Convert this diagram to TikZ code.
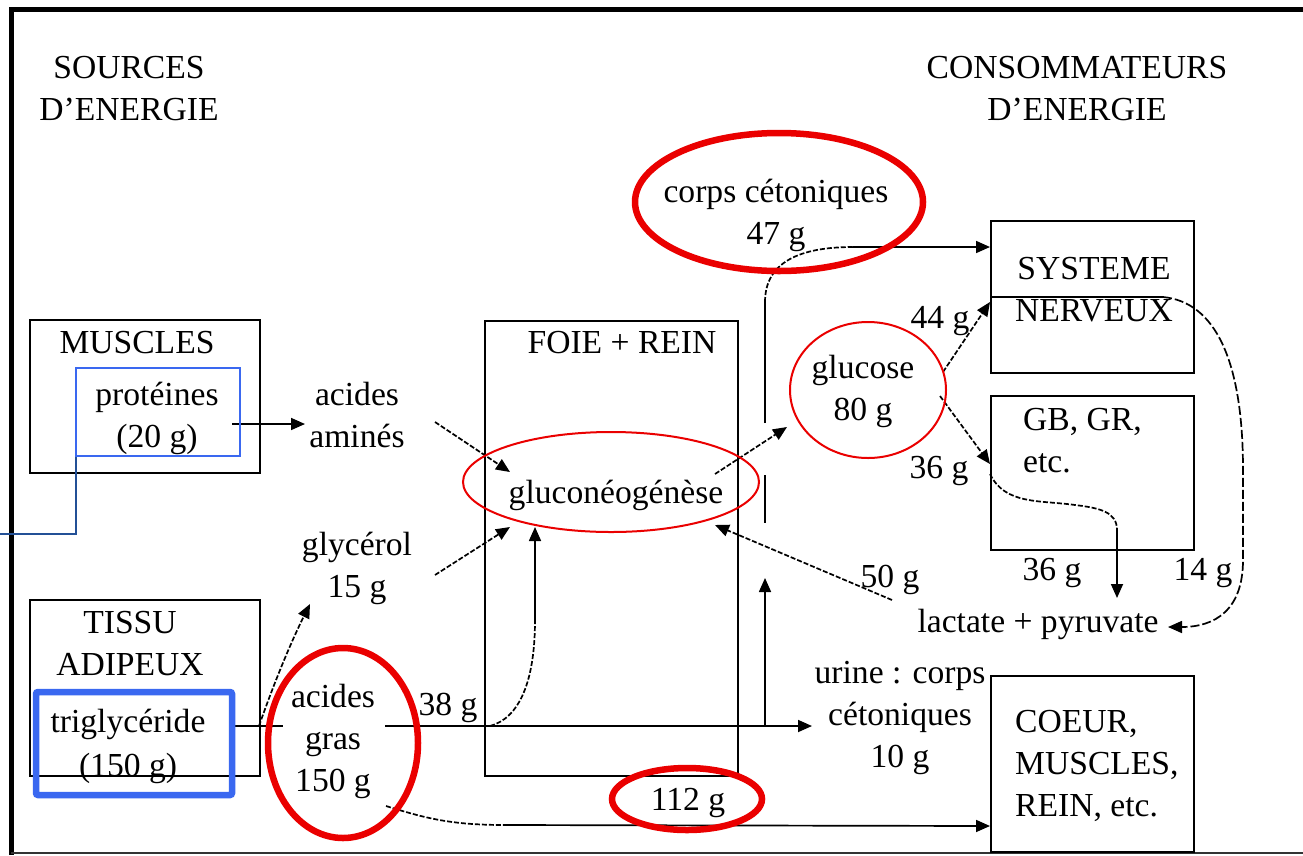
\documentclass[tikz,border=0pt]{standalone}
\usepackage{fontspec}
\setmainfont{Liberation Serif}
\usetikzlibrary{arrows.meta,shapes.geometric}
\definecolor{rd}{RGB}{234,0,0}
\definecolor{bl}{RGB}{58,104,240}
\definecolor{dbl}{RGB}{35,80,150}
\begin{document}
\begin{tikzpicture}[x=1pt,y=-1pt,
  txt/.style={align=center, inner sep=0pt, anchor=north, yshift=29.4pt, font=\fontsize{33.6}{42}\selectfont},
  txtl/.style={txt, align=left, anchor=north west},
  box/.style={draw, line width=1.8pt, inner sep=0pt},
  ell/.style={draw=rd, ellipse, inner sep=0pt},
  ln/.style={line width=1.7pt},
  arr/.style={ln, -{Triangle[length=14pt,width=12pt]}},
  dsh/.style={dash pattern=on 5pt off 2pt},
  ldsh/.style={dash pattern=on 9pt off 3pt}]
\useasboundingbox (0,0) rectangle (1303,855);
\fill[white] (0,0) rectangle (1303,855);
% frame
\draw[line width=5pt] (11,855) -- (11,9.5) -- (1303,9.5);
\draw[line width=1.5pt, black!80] (11,853) -- (1303,853);

% boxes
\node[box, minimum width=230pt, minimum height=153pt] (muscles) at (145,396.5) {};
\node[box, minimum width=230pt, minimum height=176pt] (tissu) at (145,688) {};
\node[box, minimum width=253pt, minimum height=455pt] (foie) at (611.5,548.5) {};
\node[box, minimum width=203pt, minimum height=152pt] (sn) at (1092.5,297) {};
\node[box, minimum width=203pt, minimum height=154pt] (gb) at (1092.5,473) {};
\node[box, minimum width=203pt, minimum height=176pt] (coeur) at (1092.5,764) {};

% texts
\node[txt] (tsrc) at (129,78) {\strut SOURCES\\\strut D’ENERGIE};
\node[txt] (tcons) at (1077,78) {\strut CONSOMMATEURS\\\strut D’ENERGIE};
\node[txt] (tmus) at (137,353) {\strut MUSCLES};
\node[txt] (tprot) at (157,405) {\strut protéines\\\strut (20 g)};
\node[txt] (taa) at (357,405) {\strut acides\\\strut aminés};
\node[txt] (tgly) at (357,555) {\strut glycérol\\\strut 15 g};
\node[txt] (ttis) at (130,633) {\strut TISSU\\\strut ADIPEUX};
\node[txt] (ttri) at (128,732) {\strut triglycéride\\[2pt]\strut (150 g)};
\node[txt] (tag) at (333,707) {\strut acides\\\strut gras\\\strut 150 g};
\node[txt] (t38) at (448,715) {\strut 38 g};
\node[txt] (tfoie) at (622,353) {\strut FOIE + REIN};
\node[txt] (tgn) at (616,503) {\strut gluconéogénèse};
\node[txt] (t112) at (688,810) {\strut 112 g};
\node[txt] (tcc) at (776,202) {\strut corps cétoniques\\\strut 47 g};
\node[txt] (tgl) at (863,378) {\strut glucose\\\strut 80 g};
\node[txt] (tsn) at (1094,279) {\strut SYSTEME\\\strut NERVEUX};
\node[txt] (t44) at (940,328) {\strut 44 g};
\node[txtl] (tgb) at (1023,430) {\strut GB, GR,\\\strut etc.};
\node[txt] (t36a) at (939,478) {\strut 36 g};
\node[txt] (t36b) at (1052,580) {\strut 36 g};
\node[txt] (t14) at (1203,580) {\strut 14 g};
\node[txt] (t50) at (890,587) {\strut 50 g};
\node[txt] (tlp) at (1038,632) {\strut lactate + pyruvate};
\node[txt] (tur) at (900,683) {\strut urine : corps\\\strut cétoniques\\\strut 10 g};
\node[txtl] (tco) at (1015,732) {\strut COEUR,\\\strut MUSCLES,\\\strut REIN, etc.};

% connector end points
\coordinate (a1) at (232,424);  \coordinate (a2) at (305,424);
\coordinate (b1) at (435,422);  \coordinate (b2) at (510,472);
\coordinate (c1) at (435,575);  \coordinate (c2) at (510,527);
\coordinate (d1) at (235,726);  \coordinate (d2) at (283,726);
\coordinate (e1) at (259,726);  \coordinate (e2) at (310,604);
\coordinate (f1) at (385,726);  \coordinate (f2) at (812,726);
\coordinate (g1) at (490,726);  \coordinate (g2) at (535,620); \coordinate (g3) at (535,527);
\coordinate (h1) at (386,806);  \coordinate (h2) at (505,825); \coordinate (h3) at (990,826);
\coordinate (i1) at (765,726);  \coordinate (i2) at (765,578);
\coordinate (j1) at (765,475);  \coordinate (j2) at (765,523);
\coordinate (k1) at (715,474);  \coordinate (k2) at (787,427);
\coordinate (l1) at (765,423);  \coordinate (l2) at (765,302); \coordinate (l3) at (853,247); \coordinate (l4) at (990,247);
\coordinate (m1) at (943,372);  \coordinate (m2) at (990,302);
\coordinate (n1) at (991,297);  \coordinate (n2) at (1163,297); \coordinate (n3) at (1168,627);
\coordinate (o1) at (940,396);  \coordinate (o2) at (990,464);
\coordinate (p1) at (990,474);  \coordinate (p2) at (1117,530); \coordinate (p3) at (1117,598);
\coordinate (q1) at (892,600);  \coordinate (q2) at (715,525);

% connectors
\draw[arr] (a1) -- (a2);
\draw[arr, dsh] (b1) -- (b2);
\draw[arr, dsh] (c1) -- (c2);
\draw[ln] (d1) -- (d2);
\draw[arr, dsh] (e1) .. controls (275,680) and (292,640) .. (e2);
\draw[arr] (f1) -- (f2);
\draw[ln, dsh] (g1) .. controls (520,718) and (535,680) .. (g2);
\draw[arr] (g2) -- (g3);
\draw[ln, dsh] (h1) .. controls (425,818) and (450,825) .. (h2);
\draw[arr] (h2) -- (h3);
\draw[arr] (i1) -- (i2);
\draw[ln] (j1) -- (j2);
\draw[arr, dsh] (k1) -- (k2);
\draw[ln] (l1) -- (l2);
\draw[ln, dsh] (l2) .. controls (765,262) and (800,247) .. (l3);
\draw[arr] (l3) -- (l4);
\draw[arr, dsh] (m1) -- (m2);
\draw[ln] (n1) -- (n2);
\draw[arr, ldsh] (n2) .. controls (1215,302) and (1243,360) .. (1243,470) -- (1243,560) .. controls (1243,610) and (1215,627) .. (n3);
\draw[arr, dsh] (o1) -- (o2);
\draw[ln, dsh] (p1) .. controls (1005,505) and (1040,500) .. (1075,505) .. controls (1100,508) and (1117,512) .. (p2);
\draw[arr] (p2) -- (p3);
\draw[arr, dsh] (q1) -- (q2);

% annotations
\draw[dbl, line width=2pt] (0,534) -- (76,534) -- (76,457);
\node[draw=bl, line width=2pt, inner sep=0pt, minimum width=164pt, minimum height=88pt] (bprot) at (158,412) {};
\node[draw=bl, line width=6.5pt, rounded corners=2pt, inner sep=0pt, minimum width=196pt, minimum height=103pt] (btri) at (134,743.5) {};
\node[ell, line width=6.5pt, minimum width=288pt, minimum height=138pt] (ecc) at (779,202) {};
\node[ell, line width=2pt, minimum width=156pt, minimum height=136pt] (egl) at (868,390) {};
\node[ell, line width=2pt, minimum width=296pt, minimum height=100pt] (egn) at (611,482) {};
\node[ell, line width=6.5pt, minimum width=150pt, minimum height=190pt] (eag) at (343,743) {};
\node[ell, line width=6.5pt, minimum width=150pt, minimum height=62pt] (e112) at (687,799) {};
\end{tikzpicture}
\end{document}
